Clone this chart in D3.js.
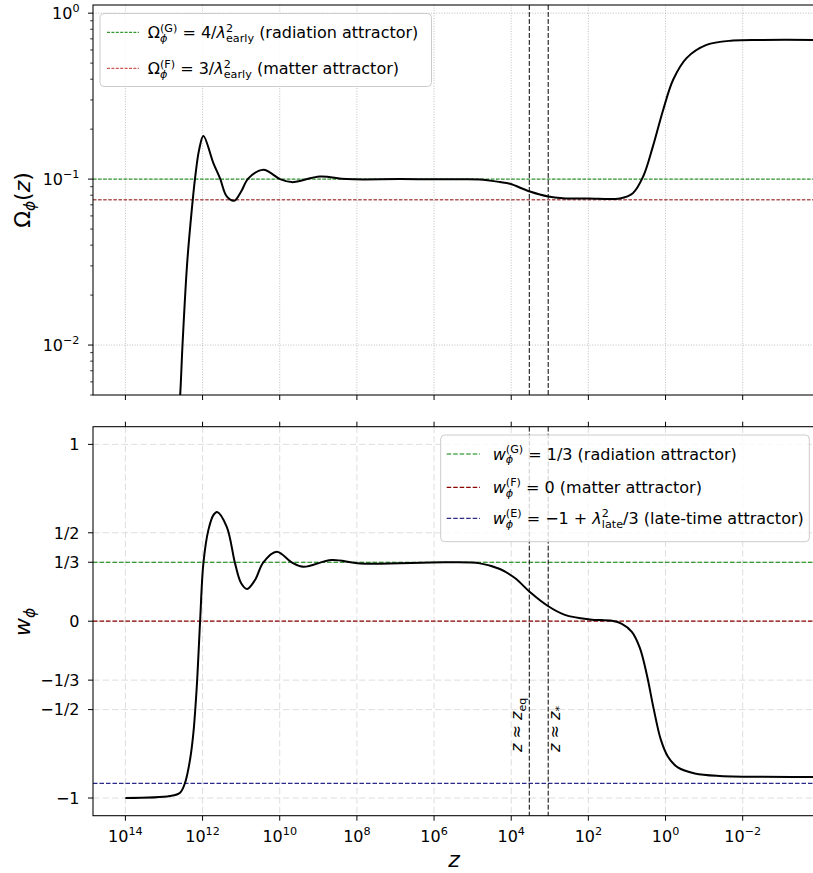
<!DOCTYPE html>
<html>
<head>
<meta charset="utf-8">
<script src="https://cdn.jsdelivr.net/npm/d3@7"></script>
<style>
html,body{margin:0;padding:0;background:#fff;}
svg text{white-space:pre;}
</style>
</head>
<body>
<script>
// ---------------- DATA ----------------
const xTickExps = [14, 12, 10, 8, 6, 4, 2, 0, -2];
const omegaTickExps = [0, -1, -2];
const wTickValues = [1, 0.5, 1/3, 0, -1/3, -0.5, -1];
const wTickLabels = ["1", "1/2", "1/3", "0", "\u22121/3", "\u22121/2", "\u22121"];

// Omega_phi(z): log10(z) and value
const omegaLogZ = [12.70, 12.58, 12.52, 12.40, 12.28, 12.194, 12.09, 11.979, 11.72, 11.547, 11.373, 11.184, 11.0, 10.813, 10.425, 9.992, 9.689, 8.956, 8.264, 6.88, 5.5, 4.811, 4.293, 4.034, 3.516, 3.041, 2.66, 2.0, 1.184, 0.847, 0.580, 0.329, 0.062, -0.197, -0.544, -1.062, -1.743, -2.5, -3.9];
const omegaValues = [0.0020, 0.00502, 0.0100, 0.031, 0.0653, 0.1014, 0.150, 0.182, 0.125, 0.101, 0.0786, 0.0740, 0.0842, 0.101, 0.1138, 0.100, 0.0959, 0.1037, 0.100, 0.100, 0.0998, 0.0995, 0.0960, 0.0937, 0.0842, 0.0786, 0.0768, 0.0765, 0.0765, 0.0823, 0.1037, 0.157, 0.261, 0.397, 0.536, 0.644, 0.684, 0.690, 0.690];

// w_phi(z)
const wLogZ = [14.0, 12.842, 12.583, 12.454, 12.324, 12.238, 12.150, 12.064, 11.979, 11.850, 11.720, 11.624, 11.373, 11.158, 11.003, 10.847, 10.64, 10.425, 10.078, 9.689, 9.389, 8.653, 7.920, 5.674, 4.811, 4.293, 3.904, 3.516, 3.049, 2.61, 1.96, 1.39, 1.132, 0.873, 0.666, 0.485, 0.303, 0.122, -0.059, -0.318, -0.759, -1.406, -3.9];
const wValues = [-1, -0.989, -0.970, -0.914, -0.782, -0.632, -0.369, 0, 0.327, 0.515, 0.600, 0.618, 0.534, 0.327, 0.216, 0.182, 0.233, 0.333, 0.393, 0.333, 0.308, 0.346, 0.327, 0.333, 0.327, 0.295, 0.244, 0.165, 0.086, 0.036, 0.010, 0.002, -0.015, -0.060, -0.151, -0.303, -0.500, -0.670, -0.765, -0.827, -0.861, -0.875, -0.881];

const lambdaEarly2 = 40;
const lambdaLate2 = 0.25;
const omegaG = 4 / lambdaEarly2;
const omegaF = 3 / lambdaEarly2;
const wG = 1/3, wF = 0, wE = -1 + lambdaLate2 / 3;
const zEq = 3400, zStar = 1100;

// ---------------- LAYOUT ----------------
const W = 813, H = 873;
const L = 93, R = 816;
const top1 = 5, bot1 = 395;
const top2 = 426.7, bot2 = 815.7;
const FONT = '"DejaVu Sans", "Liberation Sans", sans-serif';
const PHI = '\u03D5';

const svg = d3.select('body').append('svg')
  .attr('width', W).attr('height', H)
  .style('font-family', FONT);

const x = d3.scaleLog().domain([Math.pow(10, 14.84), Math.pow(10, -3.9)]).range([L, R]);
const yO = d3.scaleLog().domain([0.005, 1.12]).range([bot1, top1]);
const yW = d3.scaleLinear().domain([-1.1, 1.1]).range([bot2, top2]);

const defs = svg.append('defs');
defs.append('clipPath').attr('id', 'c1').append('rect').attr('x', L).attr('y', top1).attr('width', R - L).attr('height', bot1 - top1);
defs.append('clipPath').attr('id', 'c2').append('rect').attr('x', L).attr('y', top2).attr('width', R - L).attr('height', bot2 - top2);

// rich text helper: one <text> element, tspans positioned absolutely
function rich(parent, px, py, parts, size, anchor, rot) {
  const outer = parent.append('g');
  const g = outer.append('g');
  const text = g.append('text').attr('fill', '#000');
  let cx = 0;
  const s2 = size * 0.7;
  function span(str, fs, dy, italic) {
    const t = text.append('tspan').attr('x', cx).attr('y', dy).attr('font-size', fs).text(str);
    if (italic) t.attr('font-style', 'italic');
    return t.node().getComputedTextLength();
  }
  parts.forEach(p => {
    if (p.sup !== undefined || p.sub !== undefined) {
      let w = 0;
      const start = cx;
      if (p.sup !== undefined) { cx = start; w = Math.max(w, span(p.sup, s2, -size * 0.40, p.supI)); }
      if (p.sub !== undefined) { cx = start; w = Math.max(w, span(p.sub, s2, size * 0.24, p.subI)); }
      cx = start + w;
    } else {
      cx += span(p.t, size, 0, p.i);
    }
  });
  const x0 = anchor === 'middle' ? -cx / 2 : anchor === 'end' ? -cx : 0;
  g.attr('transform', `translate(${x0},0)`);
  outer.attr('transform', `translate(${px},${py}) rotate(${rot || 0})`);
  return outer;
}

const lz = d => Math.pow(10, d);
const curve = d3.curveCatmullRom.alpha(0.5);

// ---------------- TOP PANEL ----------------
const p1 = svg.append('g');
const gridTop = p1.append('g').attr('stroke', '#b0b0b0').attr('stroke-width', 0.8).attr('stroke-dasharray', '1,1.6');
xTickExps.forEach(e => gridTop.append('line').attr('x1', x(lz(e))).attr('x2', x(lz(e))).attr('y1', top1).attr('y2', bot1));
omegaTickExps.forEach(e => gridTop.append('line').attr('x1', L).attr('x2', R).attr('y1', yO(lz(e))).attr('y2', yO(lz(e))));

p1.append('line').attr('x1', L).attr('x2', R).attr('y1', yO(omegaG)).attr('y2', yO(omegaG))
  .attr('stroke', 'green').attr('stroke-width', 1).attr('stroke-dasharray', '3.5,1.6');
p1.append('line').attr('x1', L).attr('x2', R).attr('y1', yO(omegaF)).attr('y2', yO(omegaF))
  .attr('stroke', '#8b0000').attr('stroke-width', 1).attr('stroke-dasharray', '3.5,1.6');

[zEq, zStar].forEach(z => p1.append('line').attr('x1', x(z)).attr('x2', x(z)).attr('y1', top1).attr('y2', bot1)
  .attr('stroke', '#000').attr('stroke-width', 1).attr('stroke-dasharray', '4.9,2.1'));

const omegaData = omegaLogZ.map((d, i) => [lz(d), omegaValues[i]]);
p1.append('path').attr('clip-path', 'url(#c1)')
  .attr('d', d3.line().x(d => x(d[0])).y(d => yO(d[1])).curve(curve)(omegaData))
  .attr('fill', 'none').attr('stroke', '#000').attr('stroke-width', 2);

const ax1 = p1.append('g').attr('stroke', '#000');
ax1.append('rect').attr('x', L).attr('y', top1).attr('width', R - L).attr('height', bot1 - top1).attr('fill', 'none').attr('stroke-width', 1.05);
xTickExps.forEach(e => ax1.append('line').attr('x1', x(lz(e))).attr('x2', x(lz(e))).attr('y1', bot1).attr('y2', bot1 + 5).attr('stroke-width', 1));
omegaTickExps.forEach(e => {
  ax1.append('line').attr('x1', L - 5).attr('x2', L).attr('y1', yO(lz(e))).attr('y2', yO(lz(e))).attr('stroke-width', 1);
  rich(p1, L - 13.5, yO(lz(e)) + 5.5, [{t: '10'}, {sup: e === 0 ? '0' : '\u2212' + Math.abs(e)}], 16, 'end');
});
[-3, -2, -1].forEach(e => {
  for (let k = 2; k <= 9; k++) {
    const v = k * Math.pow(10, e);
    if (v < 0.005 || v > 1.12) continue;
    ax1.append('line').attr('x1', L - 2.8).attr('x2', L).attr('y1', yO(v)).attr('y2', yO(v)).attr('stroke-width', 0.8);
  }
});
rich(p1, 30, 200, [{t: '\u03A9'}, {sub: PHI, subI: true}, {t: '('}, {t: 'z', i: true}, {t: ')'}], 22, 'middle', -90);

const lg1 = p1.append('g');
lg1.append('rect').attr('x', 100).attr('y', 13.5).attr('width', 331.5).attr('height', 73).attr('rx', 4)
  .attr('fill', '#fff').attr('fill-opacity', 0.8).attr('stroke', '#cccccc').attr('stroke-width', 1);
lg1.append('line').attr('x1', 107).attr('x2', 139).attr('y1', 32.3).attr('y2', 32.3).attr('stroke', 'green').attr('stroke-width', 1).attr('stroke-dasharray', '3,1.4');
lg1.append('line').attr('x1', 107).attr('x2', 139).attr('y1', 68.3).attr('y2', 68.3).attr('stroke', '#c83030').attr('stroke-width', 1).attr('stroke-dasharray', '3,1.4');
rich(lg1, 147.7, 38, [{t: '\u03A9'}, {sup: '(G)', sub: PHI, subI: true}, {t: ' = 4/'}, {t: '\u03BB', i: true}, {sup: '2', sub: 'early'}, {t: ' (radiation attractor)'}], 16, 'start');
rich(lg1, 147.7, 74, [{t: '\u03A9'}, {sup: '(F)', sub: PHI, subI: true}, {t: ' = 3/'}, {t: '\u03BB', i: true}, {sup: '2', sub: 'early'}, {t: ' (matter attractor)'}], 16, 'start');

// ---------------- BOTTOM PANEL ----------------
const p2 = svg.append('g');
const gridBot = p2.append('g').attr('stroke', '#dedede').attr('stroke-width', 1).attr('stroke-dasharray', '6.5,3');
xTickExps.forEach(e => gridBot.append('line').attr('x1', x(lz(e))).attr('x2', x(lz(e))).attr('y1', top2).attr('y2', bot2));
wTickValues.forEach(v => gridBot.append('line').attr('x1', L).attr('x2', R).attr('y1', yW(v)).attr('y2', yW(v)));

[[wG, 'green'], [wF, '#8b0000'], [wE, '#2a2a8a']].forEach(([v, c]) =>
  p2.append('line').attr('x1', L).attr('x2', R).attr('y1', yW(v)).attr('y2', yW(v))
    .attr('stroke', c).attr('stroke-width', 1.2).attr('stroke-dasharray', '4.5,2'));

[zEq, zStar].forEach(z => p2.append('line').attr('x1', x(z)).attr('x2', x(z)).attr('y1', top2).attr('y2', bot2)
  .attr('stroke', '#000').attr('stroke-width', 1).attr('stroke-dasharray', '4.9,2.1'));

const wData = wLogZ.map((d, i) => [lz(d), wValues[i]]);
p2.append('path').attr('clip-path', 'url(#c2)')
  .attr('d', d3.line().x(d => x(d[0])).y(d => yW(d[1])).curve(curve)(wData))
  .attr('fill', 'none').attr('stroke', '#000').attr('stroke-width', 2);

rich(p2, 522, 752, [{t: 'z', i: true}, {t: ' \u2248 '}, {t: 'z', i: true}, {sub: 'eq'}], 16, 'start', -90);
rich(p2, 559.5, 752, [{t: 'z', i: true}, {t: ' \u2248 '}, {t: 'z', i: true}, {sub: '*'}], 16, 'start', -90);

const ax2 = p2.append('g').attr('stroke', '#000');
ax2.append('rect').attr('x', L).attr('y', top2).attr('width', R - L).attr('height', bot2 - top2).attr('fill', 'none').attr('stroke-width', 1.05);
xTickExps.forEach(e => {
  const xx = x(lz(e));
  ax2.append('line').attr('x1', xx).attr('x2', xx).attr('y1', bot2).attr('y2', bot2 + 5).attr('stroke-width', 1);
  ax2.append('line').attr('x1', xx).attr('x2', xx).attr('y1', top2 - 5).attr('y2', top2).attr('stroke-width', 1);
  rich(p2, xx, 841.5, [{t: '10'}, {sup: e < 0 ? '\u2212' + Math.abs(e) : String(e)}], 16, 'middle');
});
wTickValues.forEach((v, i) => {
  ax2.append('line').attr('x1', L - 5).attr('x2', L).attr('y1', yW(v)).attr('y2', yW(v)).attr('stroke-width', 1);
  rich(p2, L - 13.5, yW(v) + 5.8, [{t: wTickLabels[i]}], 16, 'end');
});
rich(p2, 30, 622, [{t: 'w', i: true}, {sub: PHI, subI: true}], 22, 'middle', -90);
rich(p2, 454, 867, [{t: 'z', i: true}], 22, 'middle');

const lg2 = p2.append('g');
lg2.append('rect').attr('x', 440.7).attr('y', 435).attr('width', 368.6).attr('height', 106.7).attr('rx', 4)
  .attr('fill', '#fff').attr('fill-opacity', 0.8).attr('stroke', '#cccccc').attr('stroke-width', 1);
const rows = [
  {y: 454, c: 'green', parts: [{t: 'w', i: true}, {sup: '(G)', sub: PHI, subI: true}, {t: ' = 1/3 (radiation attractor)'}]},
  {y: 487.3, c: '#8b0000', parts: [{t: 'w', i: true}, {sup: '(F)', sub: PHI, subI: true}, {t: ' = 0 (matter attractor)'}]},
  {y: 518.3, c: '#2a2a8a', parts: [{t: 'w', i: true}, {sup: '(E)', sub: PHI, subI: true}, {t: ' = \u22121 + '}, {t: '\u03BB', i: true}, {sup: '2', sub: 'late'}, {t: '/3 (late-time attractor)'}]}
];
rows.forEach(r => {
  lg2.append('line').attr('x1', 446.7).attr('x2', 480).attr('y1', r.y).attr('y2', r.y).attr('stroke', r.c).attr('stroke-width', 1.2).attr('stroke-dasharray', '4.5,2');
  rich(lg2, 492.7, r.y + 5.5, r.parts, 16, 'start');
});
</script>
</body>
</html>
